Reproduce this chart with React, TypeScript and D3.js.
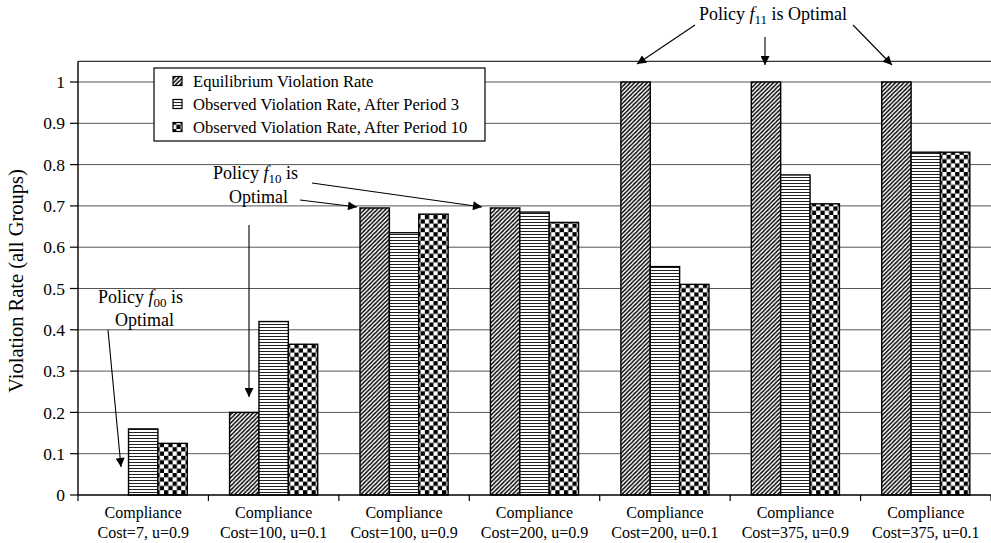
import React from "react";
import * as d3 from "d3";

const categories = [
  ["Compliance", "Cost=7, u=0.9"],
  ["Compliance", "Cost=100, u=0.1"],
  ["Compliance", "Cost=100, u=0.9"],
  ["Compliance", "Cost=200, u=0.9"],
  ["Compliance", "Cost=200, u=0.1"],
  ["Compliance", "Cost=375, u=0.9"],
  ["Compliance", "Cost=375, u=0.1"],
];
const seriesNames = [
  "Equilibrium Violation Rate",
  "Observed Violation Rate, After Period 3",
  "Observed Violation Rate, After Period 10",
];
const equilibrium = [0, 0.2, 0.695, 0.695, 1, 1, 1];
const observed3 = [0.16, 0.42, 0.635, 0.685, 0.553, 0.775, 0.83];
const observed10 = [0.125, 0.365, 0.68, 0.66, 0.51, 0.705, 0.83];
const yTicks = [0, 0.1, 0.2, 0.3, 0.4, 0.5, 0.6, 0.7, 0.8, 0.9, 1];

const W = 991;
const H = 543;
const FONT = "'Liberation Serif', 'Times New Roman', serif";

export default function App() {
  const x0 = 78;
  const x1 = 991;
  const y = d3.scaleLinear().domain([0, 1]).range([495, 82]);
  const keys = categories.map((_, i) => String(i));
  const xBand = d3.scaleBand().domain(keys).range([x0, x1]).paddingInner(0).paddingOuter(0);
  const series = [equilibrium, observed3, observed10];
  const patterns = ["pDiag", "pHoriz", "pCheck"];
  const xSub = d3
    .scaleBand()
    .domain(["0", "1", "2"])
    .range([0, xBand.bandwidth()])
    .paddingInner(0)
    .paddingOuter(0.72);

  const boundaries = keys.map((k) => xBand(k) as number).concat([x1]);

  const arrows: [number, number, number, number][] = [
    [108, 330, 121, 467],
    [249, 225, 249, 397],
    [300, 200, 357, 207],
    [312, 183, 482, 207],
    [695, 25, 637, 64],
    [765, 37, 765, 65],
    [853, 25, 892, 65],
  ];

  const policy = (x: number, yb: number, sub: string, rest: string) => (
    <text x={x} y={yb} fontSize={18} fontFamily={FONT}>
      <tspan>Policy </tspan>
      <tspan fontStyle="italic">f</tspan>
      <tspan fontSize={13} dy={4}>{sub}</tspan>
      <tspan dy={-4}>{rest}</tspan>
    </text>
  );

  return (
    <svg
      width={W}
      height={H}
      style={{ position: "absolute", left: 0, top: 0, background: "#fff" }}
      fontFamily={FONT}
    >
      <defs>
        <pattern id="pDiag" patternUnits="userSpaceOnUse" width={4.2} height={4.2}>
          <rect width={4.2} height={4.2} fill="#fff" />
          <path d="M-1,1 l2,-2 M0,4.2 l4.2,-4.2 M3.2,5.2 l2,-2" stroke="#000" strokeWidth={1.4} />
        </pattern>
        <pattern id="pHoriz" patternUnits="userSpaceOnUse" width={4} height={3}>
          <rect width={4} height={3} fill="#fff" />
          <line x1={0} x2={4} y1={0.5} y2={0.5} stroke="#222" strokeWidth={1} />
        </pattern>
        <pattern id="pCheck" patternUnits="userSpaceOnUse" width={8.6} height={8.6}>
          <rect width={8.6} height={8.6} fill="#fff" />
          <rect x={0} y={0} width={4.3} height={4.3} fill="#000" />
          <rect x={4.3} y={4.3} width={4.3} height={4.3} fill="#000" />
        </pattern>
        <marker
          id="arrowHead"
          viewBox="0 0 10 10"
          refX={10}
          refY={5}
          markerWidth={10}
          markerHeight={9}
          markerUnits="userSpaceOnUse"
          orient="auto"
        >
          <path d="M0,0 L10,5 L0,10 z" fill="#000" />
        </marker>
      </defs>

      {/* top frame */}
      <line x1={x0} x2={x1} y1={y(1.05)} y2={y(1.05)} stroke="#333" strokeWidth={1.2} />

      {/* gridlines */}
      {yTicks
        .filter((t) => t > 0)
        .map((t) => (
          <line key={t} x1={x0} x2={x1} y1={y(t)} y2={y(t)} stroke="#555" strokeWidth={1} />
        ))}

      {/* bars */}
      {keys.map((k, i) => (
        <g key={k} transform={`translate(${xBand(k)},0)`}>
          {series.map((s, j) =>
            s[i] > 0 ? (
              <rect
                key={j}
                x={xSub(String(j))}
                y={y(s[i])}
                width={xSub.bandwidth()}
                height={y(0) - y(s[i])}
                fill={`url(#${patterns[j]})`}
                stroke="#000"
                strokeWidth={1.4}
              />
            ) : null
          )}
        </g>
      ))}

      {/* y axis */}
      <line x1={x0} x2={x0} y1={y(1.05)} y2={y(0)} stroke="#000" strokeWidth={1.4} />
      {yTicks.map((t) => (
        <g key={t}>
          <line x1={x0 - 8} x2={x0} y1={y(t)} y2={y(t)} stroke="#000" strokeWidth={1.2} />
          <text
            x={x0 - 13}
            y={y(t)}
            dy="0.35em"
            textAnchor="end"
            fontSize={17.5}
          >
            {String(t)}
          </text>
        </g>
      ))}
      <text
        transform={`translate(16,281) rotate(-90)`}
        textAnchor="middle"
        dominantBaseline="central"
        fontSize={20.5}
      >
        Violation Rate (all Groups)
      </text>

      {/* x axis */}
      <line x1={x0} x2={x1} y1={y(0)} y2={y(0)} stroke="#000" strokeWidth={1.4} />
      {boundaries.map((b, i) => (
        <line key={i} x1={b} x2={b} y1={y(0)} y2={y(0) + 6} stroke="#000" strokeWidth={1.2} />
      ))}
      {keys.map((k, i) => {
        const cx = (xBand(k) as number) + xBand.bandwidth() / 2;
        return (
          <text key={k} x={cx} textAnchor="middle" fontSize={16}>
            <tspan x={cx} y={518}>{categories[i][0]}</tspan>
            <tspan x={cx} y={538}>{categories[i][1]}</tspan>
          </text>
        );
      })}

      {/* legend */}
      <rect x={154} y={68} width={331} height={73} fill="#fff" stroke="#000" strokeWidth={1.2} />
      {seriesNames.map((n, j) => {
        const cy = 81 + j * 23;
        return (
          <g key={n}>
            <rect
              x={173}
              y={cy - 4.5}
              width={9}
              height={9}
              fill={`url(#${patterns[j]})`}
              stroke="#000"
              strokeWidth={1.2}
            />
            <text x={193} y={cy} dy="0.35em" fontSize={16.6}>
              {n}
            </text>
          </g>
        );
      })}

      {/* annotations */}
      {arrows.map((a, i) => (
        <line
          key={i}
          x1={a[0]}
          y1={a[1]}
          x2={a[2]}
          y2={a[3]}
          stroke="#000"
          strokeWidth={1.1}
          markerEnd="url(#arrowHead)"
        />
      ))}
      {policy(699, 20, "11", " is Optimal")}
      {policy(213, 179, "10", " is")}
      <text x={229} y={203} fontSize={18}>Optimal</text>
      {policy(98, 303, "00", " is")}
      <text x={115} y={326} fontSize={18}>Optimal</text>
    </svg>
  );
}
